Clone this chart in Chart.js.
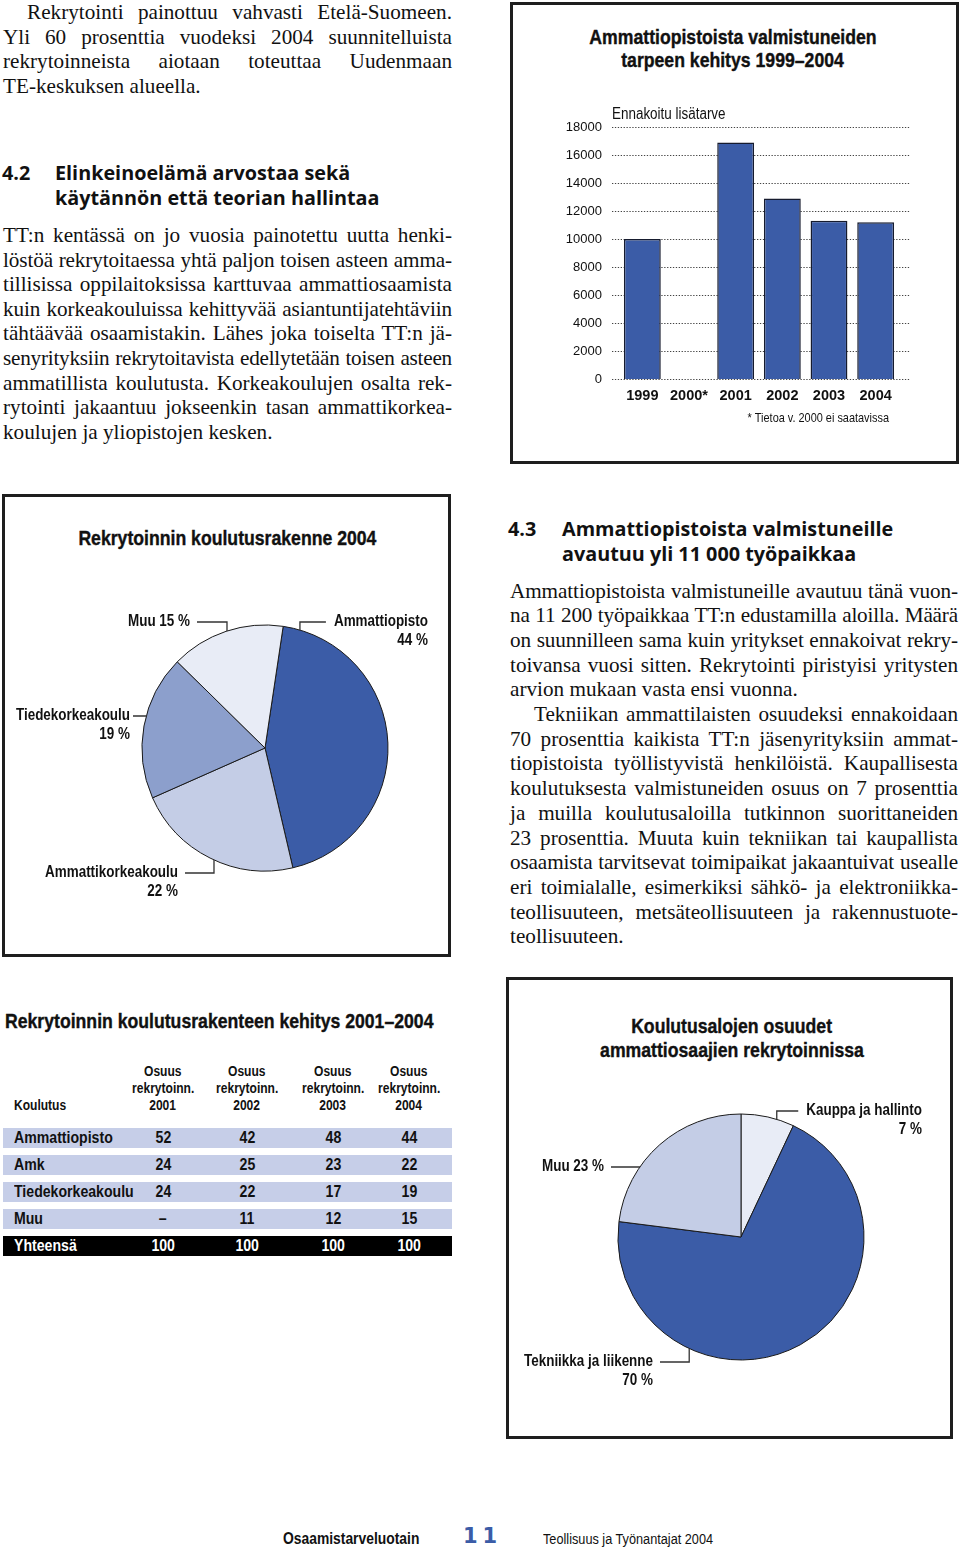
<!DOCTYPE html>
<html lang="fi">
<head>
<meta charset="utf-8">
<title>Osaamistarveluotain 11</title>
<script src="https://cdn.jsdelivr.net/npm/chart.js@4.4.1/dist/chart.umd.min.js"></script>
<style>
  body { margin: 0; background: #fff; }
  #page { position: relative; width: 960px; height: 1552px; overflow: hidden; color: #111; }
  .abs { position: absolute; white-space: nowrap; }
  .box { position: absolute; border: 3px solid #1e1e1e; box-sizing: border-box; }
  .cond { font-family: "Liberation Sans", Arial, sans-serif; }
  .sq { display: inline-block; transform: scaleX(0.84); transform-origin: left center; }
  .mid .sq { transform-origin: center center; }
  .ctitle { font-family: "Liberation Sans", Arial, sans-serif; font-weight: bold; font-size: 21px; line-height: 21px; -webkit-text-stroke: 0.4px #111; }
  .col { position: absolute; font-family: "Liberation Serif", serif; font-size: 21.2px; line-height: 24.6px; }
  .ln { text-align: justify; text-align-last: justify; }
  .ln.last { text-align-last: left; }
  .head { position: absolute; font-family: "Open Sans", Lato, sans-serif; font-weight: 700; font-size: 19.8px; line-height: 24.5px; }
  .head span { position: absolute; white-space: nowrap; }
  .cv { position: absolute; }
  .trow { position: absolute; left: 3px; width: 449px; height: 20px; background: #c6cee8; font-family: "Liberation Sans", Arial, sans-serif; font-weight: bold; font-size: 17px; line-height: 20px; }
  .trow.total { background: #000; color: #fff; }
  .trow > span, .thead > span { position: absolute; white-space: nowrap; }
  .trow .sq { transform: scaleX(0.83); }
  .thead { position: absolute; font-family: "Liberation Sans", Arial, sans-serif; font-weight: bold; font-size: 14px; line-height: 14px; }
  .thead .sq { transform: scaleX(0.86); }
</style>
</head>
<body>
<div id="page">

  <!-- vasen palsta -->
  <div class="col" style="left:3px; top:0px; width:449px;">
    <div class="ln" style="text-indent:24px">Rekrytointi painottuu vahvasti Etelä-Suomeen.</div>
    <div class="ln">Yli 60 prosenttia vuodeksi 2004 suunnitelluista</div>
    <div class="ln">rekrytoinneista aiotaan toteuttaa Uudenmaan</div>
    <div class="ln last">TE-keskuksen alueella.</div>
  </div>

  <div class="head" style="left:2px; top:161px; width:450px; height:50px;">
    <span style="left:0; top:0">4.2</span>
    <span style="left:53px; top:0">Elinkeinoelämä arvostaa sekä</span>
    <span style="left:53px; top:24.5px">käytännön että teorian hallintaa</span>
  </div>

  <div class="col" style="left:3px; top:223px; width:449px;">
    <div class="ln">TT:n kentässä on jo vuosia painotettu uutta henki-</div>
    <div class="ln">löstöä rekrytoitaessa yhtä paljon toisen asteen amma-</div>
    <div class="ln">tillisissa oppilaitoksissa karttuvaa ammattiosaamista</div>
    <div class="ln">kuin korkeakouluissa kehittyvää asiantuntijatehtäviin</div>
    <div class="ln">tähtäävää osaamistakin. Lähes joka toiselta TT:n jä-</div>
    <div class="ln">senyrityksiin rekrytoitavista edellytetään toisen asteen</div>
    <div class="ln">ammatillista koulutusta. Korkeakoulujen osalta rek-</div>
    <div class="ln">rytointi jakaantuu jokseenkin tasan ammattikorkea-</div>
    <div class="ln last">koulujen ja yliopistojen kesken.</div>
  </div>

  <!-- pylväskaavio -->
  <div class="box" style="left:510px; top:2px; width:449px; height:462px;"></div>
  <div class="abs ctitle mid" style="left:533px; width:400px; text-align:center; top:25.5px;"><span class="sq">Ammattiopistoista valmistuneiden</span></div>
  <div class="abs ctitle mid" style="left:533px; width:400px; text-align:center; top:49px;"><span class="sq">tarpeen kehitys 1999–2004</span></div>
  <div class="cv" style="left:513px; top:5px; width:443px; height:456px;"><canvas id="barChart"></canvas></div>

  <!-- ympyrä 1 -->
  <div class="box" style="left:2px; top:494px; width:449px; height:463px;"></div>
  <div class="abs ctitle mid" style="left:27px; width:400px; text-align:center; top:527px;"><span class="sq">Rekrytoinnin koulutusrakenne 2004</span></div>
  <div class="cv" style="left:5px; top:497px; width:443px; height:457px;"><canvas id="pieEducation"></canvas></div>

  <!-- oikea palsta -->
  <div class="head" style="left:508px; top:517px; width:450px; height:50px;">
    <span style="left:0; top:0">4.3</span>
    <span style="left:54px; top:0">Ammattiopistoista valmistuneille</span>
    <span style="left:54px; top:24.5px">avautuu yli 11 000 työpaikkaa</span>
  </div>

  <div class="col" style="left:510px; top:578.5px; width:448px; line-height:24.7px;">
    <div class="ln">Ammattiopistoista valmistuneille avautuu tänä vuon-</div>
    <div class="ln">na 11 200 työpaikkaa TT:n edustamilla aloilla. Määrä</div>
    <div class="ln">on suunnilleen sama kuin yritykset ennakoivat rekry-</div>
    <div class="ln">toivansa vuosi sitten. Rekrytointi piristyisi yritysten</div>
    <div class="ln last">arvion mukaan vasta ensi vuonna.</div>
    <div class="ln" style="text-indent:24px">Tekniikan ammattilaisten osuudeksi ennakoidaan</div>
    <div class="ln">70 prosenttia kaikista TT:n jäsenyrityksiin ammat-</div>
    <div class="ln">tiopistoista työllistyvistä henkilöistä. Kaupallisesta</div>
    <div class="ln">koulutuksesta valmistuneiden osuus on 7 prosenttia</div>
    <div class="ln">ja muilla koulutusaloilla tutkinnon suorittaneiden</div>
    <div class="ln">23 prosenttia. Muuta kuin tekniikan tai kaupallista</div>
    <div class="ln">osaamista tarvitsevat toimipaikat jakaantuivat usealle</div>
    <div class="ln">eri toimialalle, esimerkiksi sähkö- ja elektroniikka-</div>
    <div class="ln">teollisuuteen, metsäteollisuuteen ja rakennustuote-</div>
    <div class="ln last">teollisuuteen.</div>
  </div>

  <!-- taulukko -->
  <div class="abs ctitle" style="left:5px; top:1010px;"><span class="sq">Rekrytoinnin koulutusrakenteen kehitys 2001–2004</span></div>
  <div id="table"></div>

  <!-- ympyrä 2 -->
  <div class="box" style="left:506px; top:977px; width:447px; height:462px;"></div>
  <div class="abs ctitle mid" style="left:532px; width:400px; text-align:center; top:1015px;"><span class="sq">Koulutusalojen osuudet</span></div>
  <div class="abs ctitle mid" style="left:532px; width:400px; text-align:center; top:1039px;"><span class="sq">ammattiosaajien rekrytoinnissa</span></div>
  <div class="cv" style="left:509px; top:980px; width:441px; height:456px;"><canvas id="pieFields"></canvas></div>

  <!-- alatunniste -->
  <div class="abs cond" style="left:283px; top:1530px; font-weight:bold; font-size:16.5px; line-height:16.5px;"><span class="sq">Osaamistarveluotain</span></div>
  <div class="abs" style="left:463px; top:1526px; font-family:'DejaVu Sans'; font-weight:bold; font-size:21px; line-height:21px; color:#3b5ca7; letter-spacing:5px;">11</div>
  <div class="abs cond" style="left:543px; top:1530.5px; font-size:15.5px; line-height:15.5px;"><span class="sq" style="transform:scaleX(0.82)">Teollisuus ja Työnantajat 2004</span></div>
</div>

<script>
// Ammattiopistoista valmistuneiden tarve
const barYears = ["1999", "2000*", "2001", "2002", "2003", "2004"];
const barValues = [10000, null, 16900, 12900, 11300, 11200];
const barTicks = [0, 2000, 4000, 6000, 8000, 10000, 12000, 14000, 16000, 18000];

// Rekrytoinnin koulutusrakenne 2004
const eduLabels = ["Ammattiopisto", "Ammattikorkeakoulu", "Tiedekorkeakoulu", "Muu"];
const eduValues = [44, 22, 19, 15];

// Koulutusalojen osuudet
const fieldLabels = ["Kauppa ja hallinto", "Tekniikka ja liikenne", "Muu"];
const fieldValues = [7, 70, 23];

// taulukko 2001–2004
const tableYears = ["2001", "2002", "2003", "2004"];
const tableRowNames = ["Ammattiopisto", "Amk", "Tiedekorkeakoulu", "Muu", "Yhteensä"];
const ammattiopistoShares = [52, 42, 48, 44];
const amkShares = [24, 25, 23, 22];
const tiedeShares = [24, 22, 17, 19];
const muuShares = [null, 11, 12, 15];
const totalShares = [100, 100, 100, 100];

const BLUE = "#3b5ca7";
const MID = "#8c9fcc";
const LIGHT = "#c4cde6";
const PALE = "#e8ecf6";
const SANS = '"Liberation Sans", Arial, sans-serif';
const SQUEEZE = 0.84;

Chart.defaults.font.family = SANS;
Chart.defaults.color = "#111";

// tasataan palstan rivit
const fitCtx = document.createElement("canvas").getContext("2d");
document.querySelectorAll(".col").forEach((col) => {
  const avail = col.clientWidth;
  col.querySelectorAll(".ln").forEach((ln) => {
    const cs = getComputedStyle(ln);
    fitCtx.font = `${cs.fontSize} ${cs.fontFamily}`;
    const indent = parseFloat(cs.textIndent) || 0;
    const w = fitCtx.measureText(ln.textContent).width + indent;
    if (w > avail - 2) {
      ln.style.letterSpacing = `${-(w - avail + 3) / ln.textContent.length}px`;
    }
  });
});

// taulukko
const tableElm = document.querySelector("#table");
const colCenters = [163, 247, 333, 409];
const headTops = [1064, 1081, 1098];
function addSpan(parent, text, left, top, center) {
  const s = document.createElement("span");
  const inner = document.createElement("span");
  inner.className = "sq";
  inner.textContent = text;
  s.appendChild(inner);
  s.style.top = top + "px";
  if (center) {
    s.style.left = left - 40 + "px";
    s.style.width = "80px";
    s.style.textAlign = "center";
    inner.style.transformOrigin = "center center";
  } else {
    s.style.left = left + "px";
  }
  parent.appendChild(s);
}
const thead = document.createElement("div");
thead.className = "thead";
thead.style.left = "0px";
thead.style.top = "0px";
tableElm.appendChild(thead);
addSpan(thead, "Koulutus", 14, headTops[2], false);
tableYears.forEach((y, i) => {
  addSpan(thead, "Osuus", colCenters[i], headTops[0], true);
  addSpan(thead, "rekrytoinn.", colCenters[i], headTops[1], true);
  addSpan(thead, y, colCenters[i], headTops[2], true);
});
const tableRows = [ammattiopistoShares, amkShares, tiedeShares, muuShares, totalShares];
tableRows.forEach((row, r) => {
  const div = document.createElement("div");
  div.className = "trow" + (r === tableRows.length - 1 ? " total" : "");
  div.style.top = 1127.5 + r * 27.1 + "px";
  addSpan(div, tableRowNames[r], 11, 0, false);
  row.forEach((v, i) => addSpan(div, v === null ? "–" : String(v), colCenters[i] - 3, 0, true));
  tableElm.appendChild(div);
});

// kapeutettu teksti kankaalle
function squeezeText(ctx, text, x, y, align) {
  ctx.save();
  ctx.translate(x, y);
  ctx.scale(SQUEEZE, 1);
  ctx.textAlign = align;
  ctx.fillText(text, 0, 0);
  ctx.restore();
}

// pisteviivat
const dottedGrid = {
  id: "dottedGrid",
  beforeDatasetsDraw(chart) {
    const { ctx, chartArea, scales } = chart;
    ctx.save();
    ctx.strokeStyle = "#444";
    ctx.lineWidth = 1.2;
    ctx.setLineDash([1.3, 1.6]);
    scales.y.ticks.forEach((t) => {
      const py = Math.round(scales.y.getPixelForValue(t.value)) + 0.5;
      ctx.beginPath();
      ctx.moveTo(chartArea.left - 7, py);
      ctx.lineTo(chartArea.right + 11, py);
      ctx.stroke();
    });
    ctx.restore();
  },
};

const barNotes = {
  id: "barNotes",
  afterDraw(chart) {
    const { ctx, chartArea } = chart;
    ctx.save();
    ctx.fillStyle = "#111";
    ctx.textBaseline = "middle";
    ctx.font = `16px ${SANS}`;
    squeezeText(ctx, "Ennakoitu lisätarve", chartArea.left - 7, chartArea.top - 12, "left");
    ctx.font = `13px ${SANS}`;
    squeezeText(ctx, "* Tietoa v. 2000 ei saatavissa", chartArea.right - 10, chartArea.bottom + 39, "right");
    ctx.restore();
  },
};

// ympyröiden selitteet viivoineen
const pieLabels = {
  id: "pieLabels",
  afterDraw(chart, args, opts) {
    const { ctx } = chart;
    const arc = chart.getDatasetMeta(0).data[0];
    const cx = arc.x;
    const cy = arc.y;
    const r = arc.outerRadius;
    const labels = chart.data.labels;
    const values = chart.data.datasets[0].data;
    ctx.save();
    ctx.font = `bold 16px ${SANS}`;
    ctx.fillStyle = "#111";
    ctx.strokeStyle = "#333";
    ctx.lineWidth = 1.3;
    ctx.textBaseline = "middle";
    opts.spots.forEach((s, i) => {
      const a = (s.angle * Math.PI) / 180;
      const ex = cx + r * Math.sin(a);
      const ey = cy - r * Math.cos(a);
      const tx = cx + s.tx;
      const ty = cy + s.ty;
      const lines = s.oneLine
        ? [`${labels[i]} ${values[i]} %`]
        : [labels[i], `${values[i]} %`];
      lines.forEach((t, k) => squeezeText(ctx, t, tx, ty + k * 19, "right"));
      const w = ctx.measureText(lines[0]).width * SQUEEZE;
      const gap = s.gap || 7;
      const lx = s.side === "left" ? tx + gap : tx - w - gap - 1;
      ctx.beginPath();
      ctx.moveTo(lx, ty);
      ctx.lineTo(ex, ty);
      ctx.lineTo(ex, ey);
      ctx.stroke();
    });
    ctx.restore();
  },
};

new Chart(document.querySelector("#barChart"), {
  type: "bar",
  data: {
    labels: barYears,
    datasets: [
      {
        data: barValues,
        backgroundColor: BLUE,
        borderColor: "#161b2e",
        borderWidth: 1.5,
        barPercentage: 0.79,
        categoryPercentage: 1,
      },
    ],
  },
  options: {
    responsive: true,
    maintainAspectRatio: false,
    animation: false,
    events: [],
    layout: { padding: { left: 6, right: 57, top: 122, bottom: 52 } },
    plugins: { legend: { display: false }, tooltip: { enabled: false } },
    scales: {
      x: {
        grid: { display: false, drawTicks: false },
        border: { display: false },
        ticks: { padding: 8, autoSkip: false, maxRotation: 0, minRotation: 0, font: { size: 14.5, weight: "bold" } },
        afterFit: (s) => {
          s.height = 30;
        },
      },
      y: {
        min: 0,
        max: 18000,
        grid: { display: false, drawTicks: false },
        border: { display: false },
        ticks: { padding: 17, font: { size: 13 }, callback: (v) => String(v) },
        afterBuildTicks: (s) => {
          s.ticks = barTicks.map((v) => ({ value: v }));
        },
        afterFit: (s) => {
          s.width = 100;
        },
      },
    },
  },
  plugins: [dottedGrid, barNotes],
});

new Chart(document.querySelector("#pieEducation"), {
  type: "pie",
  data: {
    labels: eduLabels,
    datasets: [
      {
        data: eduValues,
        backgroundColor: [BLUE, LIGHT, MID, PALE],
        borderColor: "#1a1a1a",
        borderWidth: 1,
      },
    ],
  },
  options: {
    responsive: true,
    maintainAspectRatio: false,
    animation: false,
    events: [],
    rotation: 8.5,
    radius: 123,
    layout: { padding: { left: 90, right: 13, top: 70, bottom: 25 } },
    plugins: {
      legend: { display: false },
      tooltip: { enabled: false },
      pieLabels: {
        spots: [
          { angle: 16.5, tx: 163, ty: -126, side: "right" },
          { angle: 204.5, tx: -87, ty: 125, side: "left" },
          { angle: 285, tx: -135, ty: -32, side: "left", gap: 3 },
          { angle: 342, tx: -75, ty: -126, side: "left", oneLine: true },
        ],
      },
    },
  },
  plugins: [pieLabels],
});

new Chart(document.querySelector("#pieFields"), {
  type: "pie",
  data: {
    labels: fieldLabels,
    datasets: [
      {
        data: fieldValues,
        backgroundColor: [PALE, BLUE, LIGHT],
        borderColor: "#1a1a1a",
        borderWidth: 1,
      },
    ],
  },
  options: {
    responsive: true,
    maintainAspectRatio: false,
    animation: false,
    events: [],
    rotation: 0,
    radius: 123,
    layout: { padding: { left: 41, right: 18, top: 80, bottom: 22 } },
    plugins: {
      legend: { display: false },
      tooltip: { enabled: false },
      pieLabels: {
        spots: [
          { angle: 16.9, tx: 181, ty: -126, side: "right" },
          { angle: 204.9, tx: -88, ty: 125, side: "left" },
          { angle: 304.5, tx: -137, ty: -70, side: "left", oneLine: true },
        ],
      },
    },
  },
  plugins: [pieLabels],
});
</script>
</body>
</html>
